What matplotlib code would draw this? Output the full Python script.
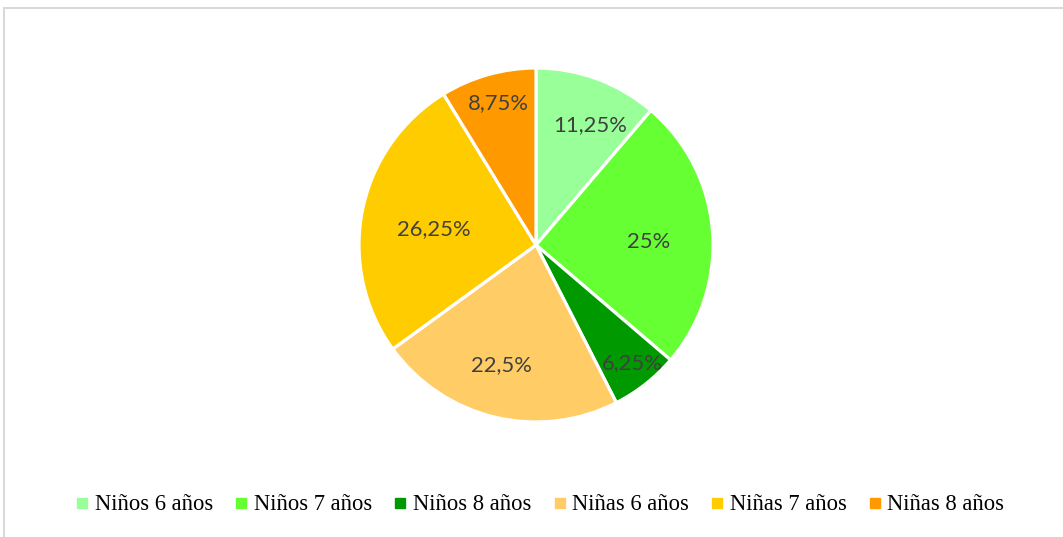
import matplotlib.pyplot as plt
import numpy as np
from matplotlib.patches import Rectangle
from matplotlib.lines import Line2D

# porcentajes por grupo (niños / niñas por edad)
categorias = ["Niños 6 años", "Niños 7 años", "Niños 8 años",
              "Niñas 6 años", "Niñas 7 años", "Niñas 8 años"]
porcentajes = [11.25, 25, 6.25, 22.5, 26.25, 8.75]
etiquetas = ["11,25%", "25%", "6,25%", "22,5%", "26,25%", "8,75%"]
colores = ["#99FF99", "#66FF33", "#009900", "#FFCC66", "#FFCC00", "#FF9900"]
# posición de cada etiqueta: distancia al centro (fracción del radio)
# y desplazamiento angular respecto al centro del sector (grados)
dist_etiqueta = [0.754, 0.639, 0.849, 0.693, 0.585, 0.839]
giro_etiqueta = [-3.6, -1.7, 1.5, -3.1, 1.5, -0.9]

fig = plt.figure(figsize=(10.63, 5.37), dpi=100)
W, H = 1063, 537

# marco gris del área del gráfico
fig.patches.append(Rectangle((3.5 / W, -0.1), 1.2, 1 - 7.5 / H + 0.1,
                             transform=fig.transFigure, fill=False,
                             edgecolor="#d9d9d9", linewidth=1.5))

cx, cy, r = 536, 245, 177
ax = fig.add_axes([(cx - r) / W, (H - cy - r) / H, 2 * r / W, 2 * r / H])
wedges, _ = ax.pie(porcentajes, colors=colores, startangle=90, counterclock=False,
                   radius=1, wedgeprops=dict(edgecolor="white", linewidth=2.3))
ax.set_xlim(-1.0, 1.0)
ax.set_ylim(-1.0, 1.0)
ax.axis("off")

# etiquetas de porcentaje en cada sector
for w, txt, d, g in zip(wedges, etiquetas, dist_etiqueta, giro_etiqueta):
    ang = np.deg2rad((w.theta1 + w.theta2) / 2 + g)
    ax.annotate(txt, (d * np.cos(ang), d * np.sin(ang)), xytext=(0, -1.5),
                textcoords="offset points", ha="center", va="center",
                fontsize=15.8, color="#404040", family="Lato")

handles = [Line2D([], [], marker="s", linestyle="none", markersize=6.5,
                  markerfacecolor=c, markeredgecolor=c) for c in colores]
fig.legend(handles, categorias, loc="center", bbox_to_anchor=(540 / W, 1 - 505 / H),
           ncol=6, frameon=False, handlelength=0.6, handletextpad=0.25,
           columnspacing=0.95, prop=dict(family="Liberation Serif", size=16.3))

fig.savefig("out.png", dpi=100)
